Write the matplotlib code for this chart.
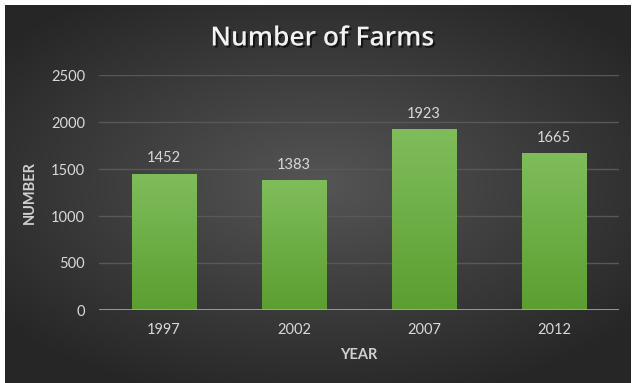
import numpy as np
import matplotlib
matplotlib.use("Agg")
import matplotlib.pyplot as plt
import matplotlib.patheffects as pe
from matplotlib.colors import LinearSegmentedColormap

# Data
years = ["1997", "2002", "2007", "2012"]
farms = [1452, 1383, 1923, 1665]
y_ticks = [0, 500, 1000, 1500, 2000, 2500]

W, H = 632, 383
fig = plt.figure(figsize=(W / 100, H / 100), dpi=100, facecolor="white")
plt.rcParams["font.family"] = ["Lato", "DejaVu Sans"]

# Dark radial-gradient background panel
bg = fig.add_axes([5 / W, 0, 625 / W, 378 / H])
bg.set_axis_off()
gx, gy = np.meshgrid(np.linspace(-1, 1, 400), np.linspace(-1, 1, 250))
r = np.sqrt((gx * 0.95) ** 2 + ((gy + 0.05) * 1.05) ** 2)
shade = np.clip(1 - r / 1.25, 0, 1)
bg_cmap = LinearSegmentedColormap.from_list("bg", ["#262626", "#555555"])
bg.imshow(shade, cmap=bg_cmap, aspect="auto", extent=[0, 1, 0, 1],
          interpolation="bilinear", vmin=0, vmax=1)
bg.set_xlim(0, 1)
bg.set_ylim(0, 1)

# Plot area
ax = fig.add_axes([99 / W, 1 - 310 / H, 520 / W, (310 - 75) / H])
ax.patch.set_alpha(0)
ax.set_xlim(-0.5, len(years) - 0.5)
ax.set_ylim(0, 2500)
ax.set_yticks(y_ticks)
ax.set_yticklabels([str(t) for t in y_ticks])
ax.set_xticks(range(len(years)))
ax.set_xticklabels(years)
for s in ax.spines.values():
    s.set_visible(False)
ax.tick_params(axis="both", length=0, colors="#d9d9d9", labelsize=10.5)
ax.tick_params(axis="y", pad=10)
ax.tick_params(axis="x", pad=9)
ax.grid(axis="y", color="#585858", linewidth=1.0)
ax.set_axisbelow(True)
ax.axhline(0, color="#a8a8a8", linewidth=1.2, zorder=3)

# Bars with a vertical green gradient
bar_cmap = LinearSegmentedColormap.from_list("bar", ["#5c9e30", "#7fbd5b"])
grad = np.linspace(0, 1, 256).reshape(-1, 1)
bars = ax.bar(range(len(years)), farms, width=0.5, color="#6dad45", zorder=2,
              linewidth=0)
for b, v in zip(bars, farms):
    im = ax.imshow(grad, cmap=bar_cmap, origin="lower", aspect="auto",
                   extent=[b.get_x(), b.get_x() + b.get_width(), 0, v],
                   zorder=2.5, interpolation="bilinear")
    im.set_clip_path(b)
    ax.annotate(str(v), (b.get_x() + b.get_width() / 2, v),
                xytext=(0, 6), textcoords="offset points", ha="center",
                va="bottom", color="#d9d9d9", fontsize=10.5)
ax.set_xlim(-0.5, len(years) - 0.5)
ax.set_ylim(0, 2500)

ax.set_xlabel("YEAR", color="#d0d0d0", fontsize=10.5, fontweight="bold",
              labelpad=8)
ax.set_ylabel("NUMBER", color="#d0d0d0", fontsize=10.5, fontweight="bold",
              labelpad=10)

fig.text(322 / W, 1 - 39 / H, "Number of Farms", ha="center", va="center",
         color="#f2f2f2", fontsize=19, fontweight="semibold",
         family=["Open Sans", "DejaVu Sans"],
         path_effects=[pe.SimplePatchShadow(offset=(1.5, -1.5),
                                            shadow_rgbFace="black", alpha=0.6),
                       pe.Normal()])

fig.savefig("out.png", dpi=100, facecolor=fig.get_facecolor())
